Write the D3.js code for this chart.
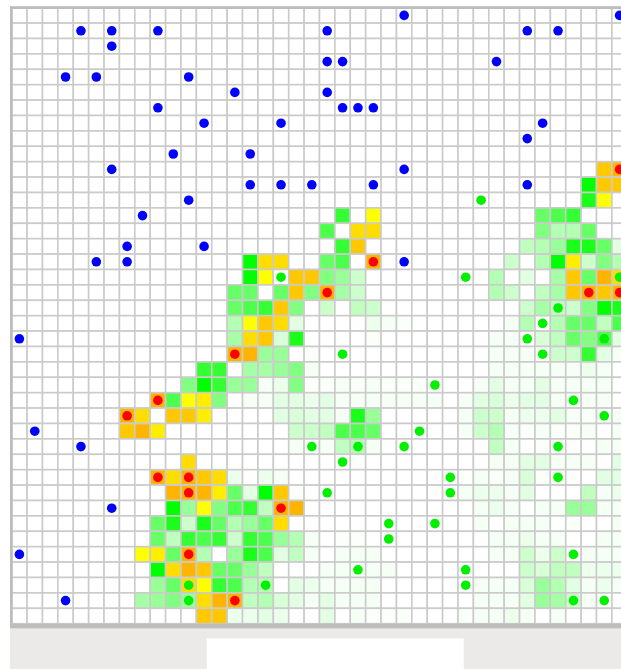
<!DOCTYPE html>
<html><head><meta charset="utf-8">
<script src="https://cdn.jsdelivr.net/npm/d3@7"></script>
<style>html,body{margin:0;padding:0;background:#fff;overflow:hidden}svg{display:block}</style>
</head><body><svg id="c" width="621" height="669"></svg>
<script>
// Density codes, weakest to strongest
const levelCodes = ".abcdefghijklmnopqrstu";
const levelStops = [0, 2, 4, 6, 8, 10, 12, 14, 16, 17, 19, 20, 21];
const levelColors = ["#ffffff","#f5fff5","#e3ffe3","#ccffcc","#b3ffb3","#99ff99","#66ff66","#33ff33","#00ff00","#ffff00","#ffdd00","#ffc800","#ffb400"];
// [row, first column, density codes]
const heatRuns = [
[10,38,"tu"],[11,37,"ptt"],[12,37,"oq"],
[13,21,"n.q"],[13,34,"lmn"],
[14,20,"m.ss"],[14,34,"khhl"],
[15,21,"nt"],[15,33,"ghjoold"],
[16,15,"pss"],[16,20,"lm.u"],[16,32,"f.hprfkh"],
[17,15,"pq.tt"],[17,20,"kjf"],[17,31,"h.d.itlus"],
[18,14,"ll.lt"],[18,19,"kuif"],[18,31,"hf.gitutu"],
[19,14,"lmntk.f.gf"],[19,33,"figfkpo"],
[20,14,"hqtsd"],[20,23,"cba"],[20,32,"bh.hllgm"],
[21,14,"isteo"],[21,23,"a"],[21,31,"bb.eglkmd"],
[22,14,"uujj.a"],[22,31,"bbbaffndb"],
[23,12,"nn.iijkb"],[23,31,"bbbbbbcb"],
[24,11,"kpnjjbckaababaaa"],[24,30,"bdbbdbbbb"],
[25,9,"umqrk"],[25,15,"bbddcdbbbbbbb"],[25,29,"bdecddbbbb"],
[26,7,"us.ttr"],[26,17,"deddboj"],[26,29,"bffbccdbabb"],
[27,7,"tur"],[27,18,"ffgmml"],[27,29,"bfhbabaab.b"],
[28,18,"b.bghb"],[28,31,"gb.a...bb"],
[29,11,"s"],[29,22,"a"],[29,31,"bbddbbb.d"],
[30,9,"usutsc.cb"],[30,30,"babeaa"],[30,38,"dd"],
[31,10,"uuurldpta"],[31,29,"bccbd...gbc"],
[32,10,"pjqkmnguu"],[32,30,"bcb.bbjjbb"],
[33,9,"lofolhjls"],[33,30,"b.bbb.a..b"],
[34,9,"lgnmnfnmjhb"],[34,21,"aa"],[34,31,"bbcbb..bb"],
[35,8,"qrluh.jomdgb"],[35,21,"bbb"],[35,31,"bbfcf.bbb"],
[36,9,"psutlljg"],[36,20,"bbbbb"],[36,33,"feggccc"],
[37,9,"jlsqnmhh.dc"],[37,20,"bbbb"],[37,30,"bbbejhdbcb"],
[38,8,"ijkjsuughedbdbbb"],[38,30,"bbbdjifb"],
[39,12,"ttccdc..d.baaa"],[39,29,"abbcb.b"]
];
// [column, row]
const bluePoints = [[25,0],[39,0],[4,1],[6,1],[9,1],[20,1],[33,1],[35,1],[6,2],[20,3],[21,3],[31,3],[3,4],[5,4],[11,4],[14,5],[20,5],[9,6],[21,6],[22,6],[23,6],[12,7],[17,7],[34,7],[33,8],[10,9],[15,9],[6,10],[25,10],[15,11],[17,11],[19,11],[23,11],[33,11],[11,12],[8,13],[7,15],[12,15],[5,16],[7,16],[25,16],[0,21],[1,27],[4,28],[6,32],[0,35],[3,38]];
const greenPoints = [[30,12],[17,17],[29,17],[39,17],[35,19],[34,20],[33,21],[38,21],[21,22],[34,22],[27,24],[36,25],[38,26],[26,27],[19,28],[22,28],[25,28],[35,28],[21,29],[28,30],[35,30],[20,31],[28,31],[24,33],[27,33],[24,34],[36,35],[22,36],[29,36],[11,37],[16,37],[29,37],[11,38],[36,38],[38,38]];
const redPoints = [[39,10],[23,16],[20,18],[37,18],[39,18],[14,22],[9,25],[7,26],[9,30],[11,30],[11,31],[17,32],[11,35],[14,38]];

const columnCount = 40, rowCount = 40;
const svg = d3.select("#c");
const x = d3.scaleLinear().domain([0, columnCount]).range([11.7, 11.7 + 15.39 * columnCount]);
const y = d3.scaleLinear().domain([0, rowCount]).range([7.7, 7.7 + 15.4 * rowCount]);
const color = d3.scaleLinear().domain(levelStops).range(levelColors);

// page footer
svg.append("rect").attr("x", 10).attr("y", 628).attr("width", 611).attr("height", 41).attr("fill", "#ebeae8");
svg.append("rect").attr("x", 206.7).attr("y", 638.3).attr("width", 257).attr("height", 31).attr("fill", "#fff");

const cells = [];
const lookup = new Map();
heatRuns.forEach(([r, c0, codes]) => [...codes].forEach((ch, i) => lookup.set(r + "," + (c0 + i), levelCodes.indexOf(ch))));
d3.range(rowCount).forEach(r => d3.range(columnCount).forEach(c => cells.push({r, c, v: lookup.get(r + "," + c) || 0})));

const g = svg.append("g");
g.selectAll("rect.cell").data(cells).join("rect").attr("class", "cell")
  .attr("x", d => x(d.c)).attr("y", d => y(d.r))
  .attr("width", x(1) - x(0)).attr("height", y(1) - y(0))
  .attr("fill", d => color(d.v)).attr("stroke", "#cbcbcb").attr("stroke-width", 1.6);

// frame: thin top and left, heavier bottom
const frame = g.append("g").attr("fill", "#bdbdbd");
frame.append("rect").attr("x", 10).attr("y", 6.2).attr("width", 611).attr("height", 2.8);
frame.append("rect").attr("x", 10).attr("y", 6.2).attr("width", 2.7).attr("height", 622);
frame.append("rect").attr("x", 10).attr("y", y(rowCount)).attr("width", 611).attr("height", 4.6);

function dots(pts, fill) {
  g.append("g").selectAll("circle").data(pts).join("circle")
    .attr("cx", d => x(d[0] + 0.5)).attr("cy", d => y(d[1] + 0.5)).attr("r", 4.8).attr("fill", fill);
}
dots(bluePoints, "#0000ff");
dots(greenPoints, "#00f000");
dots(redPoints, "#ff0000");
</script></body></html>
